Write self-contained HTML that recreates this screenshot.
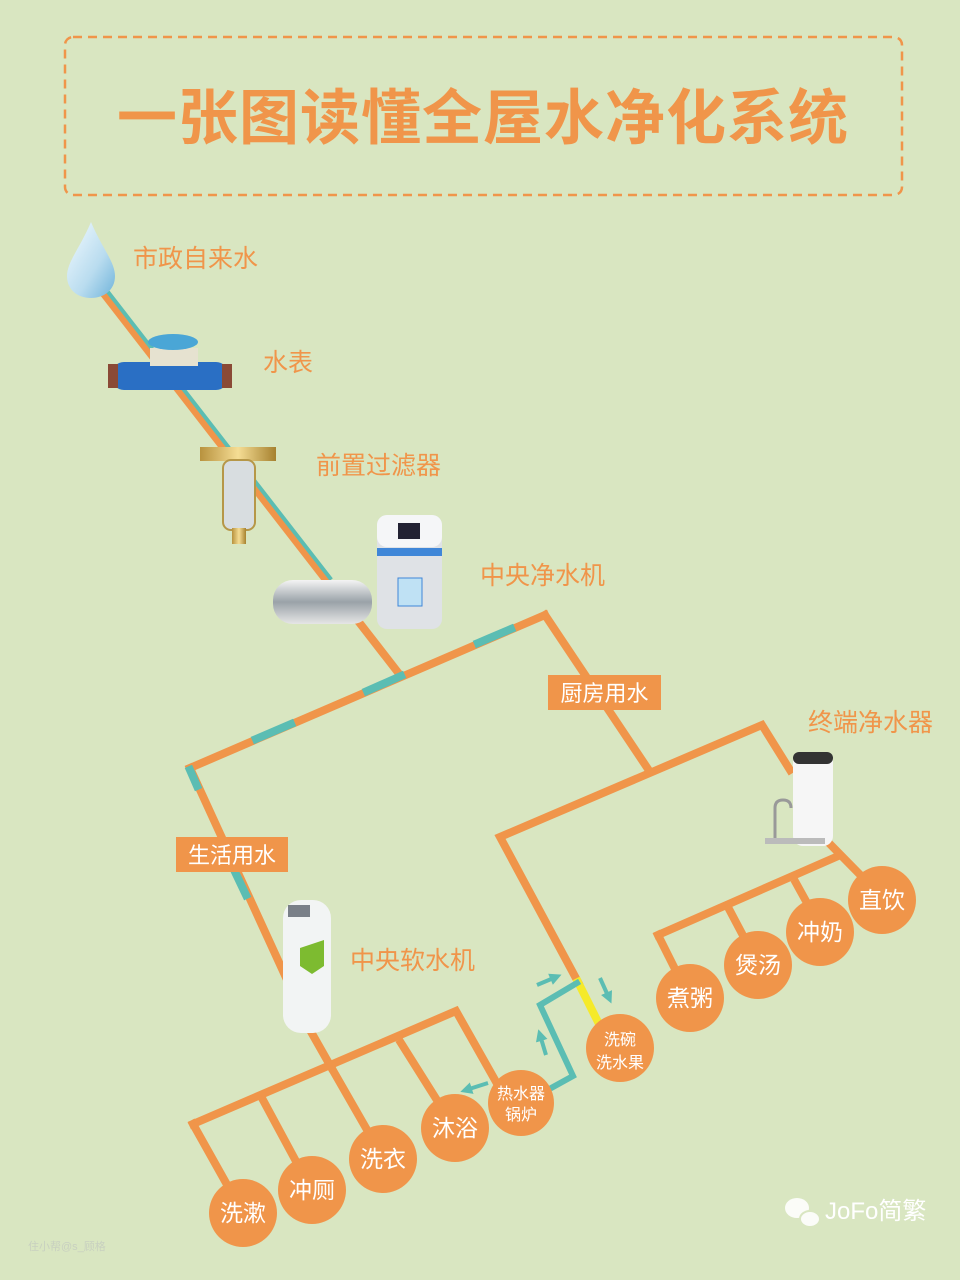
<!DOCTYPE html>
<html><head><meta charset="utf-8"><style>
html,body{margin:0;padding:0;background:#d9e6c1;}
svg{display:block;font-family:"Liberation Sans","Noto Sans CJK SC",sans-serif;}
</style></head><body>
<svg width="960" height="1280" viewBox="0 0 960 1280" xmlns="http://www.w3.org/2000/svg">
<defs>
<linearGradient id="drop" x1="0" y1="0" x2="1" y2="1"><stop offset="0" stop-color="#f4fbff"/><stop offset="0.6" stop-color="#b9dcef"/><stop offset="1" stop-color="#6fb3da"/></linearGradient>
<linearGradient id="steel" x1="0" y1="0" x2="0" y2="1"><stop offset="0" stop-color="#f4f4f4"/><stop offset="0.5" stop-color="#9aa2a8"/><stop offset="1" stop-color="#e6e6e6"/></linearGradient>
<linearGradient id="brass" x1="0" y1="0" x2="1" y2="0"><stop offset="0" stop-color="#b8923e"/><stop offset="0.5" stop-color="#f5dd94"/><stop offset="1" stop-color="#a6812f"/></linearGradient>
<marker id="ar" viewBox="0 0 10 10" refX="5" refY="5" markerWidth="3" markerHeight="3" orient="auto"><path d="M0,0 L10,5 L0,10 z" fill="#5bbdb3"/></marker>
</defs>
<rect width="960" height="1280" fill="#d9e6c1"/>
<rect x="65" y="37" width="837" height="158" rx="8" fill="none" stroke="#f0954a" stroke-width="2.5" stroke-dasharray="9,6"/>
<text x="483" y="139" font-size="60" font-weight="bold" fill="#f0954a" text-anchor="middle" letter-spacing="1">一张图读懂全屋水净化系统</text>

<g stroke-linecap="square" fill="none" stroke-width="8">
<line x1="105" y1="295" x2="400" y2="675" stroke="#f0954a"/>
<line x1="108" y1="292" x2="330" y2="578" stroke="#5bbdb3" stroke-width="4"/>
<line x1="190" y1="768" x2="545" y2="615" stroke="#f0954a"/>
<line x1="367" y1="691" x2="401" y2="676" stroke="#5bbdb3"/>
<line x1="256" y1="739" x2="291" y2="724" stroke="#5bbdb3"/>
<line x1="478" y1="643" x2="511" y2="629" stroke="#5bbdb3"/>
<polyline points="545,615 650,772" stroke="#f0954a"/>
<polyline points="190,768 310,1030 331,1067" stroke="#f0954a"/>
<line x1="190" y1="770" x2="197" y2="786" stroke="#5bbdb3"/>
<line x1="236" y1="874" x2="246" y2="895" stroke="#5bbdb3"/>
<polyline points="193,1124 456,1011 495,1080" stroke="#f0954a"/>
<line x1="193" y1="1124" x2="230" y2="1190" stroke="#f0954a"/>
<line x1="263" y1="1100" x2="298" y2="1165" stroke="#f0954a"/>
<line x1="331" y1="1067" x2="370" y2="1135" stroke="#f0954a"/>
<line x1="401" y1="1043" x2="440" y2="1105" stroke="#f0954a"/>
<polyline points="578,982 500,837 762,725 790,770" stroke="#f0954a"/>
<polyline points="658,935 836,857" stroke="#f0954a"/>
<polyline points="826,840 880,895" stroke="#f0954a"/>
<line x1="658" y1="935" x2="678" y2="975" stroke="#f0954a"/>
<line x1="729" y1="909" x2="748" y2="945" stroke="#f0954a"/>
<line x1="796" y1="883" x2="812" y2="912" stroke="#f0954a"/>
<line x1="578" y1="982" x2="598" y2="1022" stroke="#f5ea2a"/>
<polyline points="553,1087 573,1076 540,1005 577,983" stroke="#5bbdb3" stroke-width="6" stroke-linejoin="miter"/>
</g>
<g stroke="#5bbdb3" stroke-width="4" marker-end="url(#ar)">
<line x1="537" y1="985" x2="556" y2="977"/>
<line x1="600" y1="978" x2="609" y2="998"/>
<line x1="546" y1="1055" x2="540" y2="1035"/>
<line x1="488" y1="1083" x2="466" y2="1090"/>
</g>

<rect x="548" y="675" width="113" height="35" fill="#f0954a"/>
<text x="604.5" y="701" font-size="22" fill="#fff" text-anchor="middle">厨房用水</text>
<rect x="176" y="837" width="112" height="35" fill="#f0954a"/>
<text x="232" y="863" font-size="22" fill="#fff" text-anchor="middle">生活用水</text>

<g font-size="25" fill="#f0954a">
<text x="133" y="267">市政自来水</text>
<text x="263" y="371">水表</text>
<text x="316" y="474">前置过滤器</text>
<text x="480" y="584">中央净水机</text>
<text x="808" y="731">终端净水器</text>
<text x="350" y="969">中央软水机</text>
</g>

<g fill="#f0954a">
<circle cx="243" cy="1213" r="34"/><circle cx="312" cy="1190" r="34"/><circle cx="383" cy="1159" r="34"/>
<circle cx="455" cy="1128" r="34"/><circle cx="521" cy="1103" r="33"/><circle cx="620" cy="1048" r="34"/>
<circle cx="690" cy="998" r="34"/><circle cx="758" cy="965" r="34"/><circle cx="820" cy="932" r="34"/><circle cx="882" cy="900" r="34"/>
</g>
<g font-size="23" fill="#fff" text-anchor="middle">
<text x="243" y="1221">洗漱</text><text x="312" y="1198">冲厕</text><text x="383" y="1167">洗衣</text><text x="455" y="1136">沐浴</text>
<text x="690" y="1006">煮粥</text><text x="758" y="973">煲汤</text><text x="820" y="940">冲奶</text><text x="882" y="908">直饮</text>
<text x="521" y="1099" font-size="16">热水器</text><text x="521" y="1120" font-size="16">锅炉</text>
<text x="620" y="1045" font-size="16">洗碗</text><text x="620" y="1068" font-size="16">洗水果</text>
</g>

<path d="M91,222 C80,248 67,262 67,276 C67,290 78,298 91,298 C104,298 115,290 115,276 C115,262 102,248 91,222 Z" fill="url(#drop)"/>
<rect x="112" y="362" width="116" height="28" rx="12" fill="#2a6fc4"/>
<rect x="108" y="364" width="10" height="24" fill="#8a4a36"/><rect x="222" y="364" width="10" height="24" fill="#8a4a36"/>
<rect x="150" y="348" width="48" height="18" fill="#e6e2d0"/>
<ellipse cx="173" cy="342" rx="25" ry="8" fill="#4aa6d6"/>
<rect x="200" y="447" width="76" height="14" fill="url(#brass)"/>
<rect x="223" y="460" width="32" height="70" rx="8" fill="#d8dde0" stroke="#b69748" stroke-width="2"/>
<rect x="232" y="528" width="14" height="16" fill="url(#brass)"/>
<rect x="273" y="580" width="99" height="44" rx="20" fill="url(#steel)"/>
<rect x="377" y="515" width="65" height="114" rx="10" fill="#dfe2e6"/>
<rect x="377" y="515" width="65" height="32" rx="10" fill="#f5f6f8"/>
<rect x="377" y="548" width="65" height="8" fill="#3f86d8"/>
<rect x="398" y="523" width="22" height="16" fill="#223"/>
<rect x="398" y="578" width="24" height="28" fill="#bfe1f4" stroke="#3f86d8"/>
<rect x="283" y="900" width="48" height="133" rx="18" fill="#f2f4f4"/>
<rect x="288" y="905" width="22" height="12" fill="#7a8088"/>
<path d="M300,948 l24,-8 v26 l-12,8 l-12,-8 z" fill="#7dbb30"/>
<rect x="793" y="752" width="40" height="94" rx="10" fill="#f6f6f6"/>
<rect x="793" y="752" width="40" height="12" rx="6" fill="#333"/>
<path d="M775,838 v-30 q0,-8 8,-8 q8,0 8,8" stroke="#999" stroke-width="3" fill="none"/>
<rect x="765" y="838" width="60" height="6" fill="#bbb"/>

<g fill="#fff" opacity="0.9">
<ellipse cx="797" cy="1208" rx="12" ry="10"/><ellipse cx="810" cy="1219" rx="10" ry="8" stroke="#d9e6c1" stroke-width="2"/>
</g>
<text x="825" y="1219" font-size="24" fill="#fff">JoFo简繁</text>
<text x="28" y="1250" font-size="11" fill="#c8d0c0">住小帮@s_顾格</text>
</svg>
</body></html>
